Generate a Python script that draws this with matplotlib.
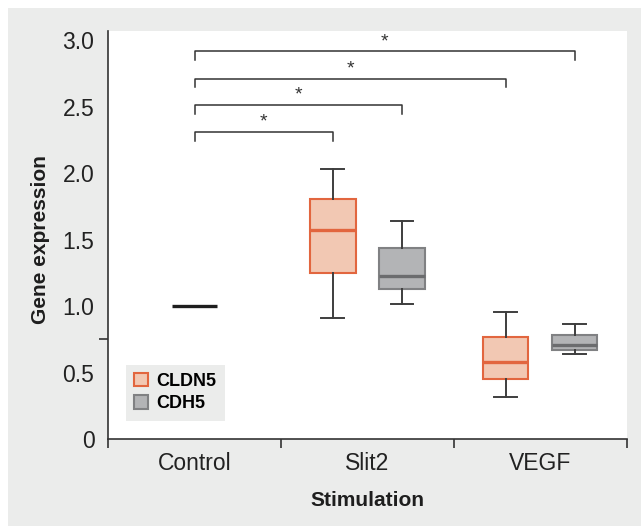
import matplotlib
matplotlib.use("Agg")
import matplotlib.pyplot as plt
from matplotlib.patches import Rectangle, Patch

# ---- data ----
categories = ["Control", "Slit2", "VEGF"]
series = ["CLDN5", "CDH5"]
control_value = 1.0
# stimulated groups (Slit2, VEGF): whisker low, Q1, median, Q3, whisker high
cldn5_whislo = [0.91, 0.32]
cldn5_q1 = [1.25, 0.45]
cldn5_med = [1.575, 0.58]
cldn5_q3 = [1.805, 0.77]
cldn5_whishi = [2.03, 0.96]
cdh5_whislo = [1.02, 0.64]
cdh5_q1 = [1.13, 0.67]
cdh5_med = [1.23, 0.71]
cdh5_q3 = [1.435, 0.785]
cdh5_whishi = [1.64, 0.865]
# significance comparisons: (target category index, series index)
comparisons = [(1, 0), (1, 1), (2, 0), (2, 1)]
bracket_levels = [2.31, 2.51, 2.71, 2.915]
y_ticks = [0, 0.5, 1.0, 1.5, 2.0, 2.5, 3.0]
y_ticklabels = ["0", "0.5", "1.0", "1.5", "2.0", "2.5", "3.0"]
y_tickmarks = [0, 0.75, 1.5, 3.0]

FONT = "Liberation Sans"
plt.rcParams["font.family"] = [FONT, "DejaVu Sans"]

BG = "#ebeceb"
C_FILL, C_EDGE = "#f2c8b3", "#e2663f"
G_FILL, G_EDGE, G_MED = "#b3b4b6", "#808183", "#6b6c6e"
WHISK = "#3e3e3e"
AX_C = "#333333"

W, H = 641, 526
fig = plt.figure(figsize=(W / 100, H / 100), dpi=100, facecolor="white")
bg = Rectangle((8 / W, 0), 1 - 8 / W, (H - 8) / H,
               transform=fig.transFigure, facecolor=BG,
               edgecolor="none", zorder=-10)
fig.patches.append(bg)

ax = fig.add_axes([108.3 / W, (H - 439.3) / H, (626.5 - 108.3) / W, (439.3 - 31) / H])
ax.set_zorder(1)
ax.set_facecolor("white")
ax.set_xlim(0, 3)
ax.set_ylim(0, 3.068)

centers = [0.5, 1.5, 2.5]
offset = 0.2
bw = 0.263

# control line
ax.plot([centers[0] - bw / 2, centers[0] + bw / 2],
        [control_value, control_value], color="#1e1e1e", lw=2.4,
        solid_capstyle="butt", zorder=3)

def stats(lo, q1, med, q3, hi):
    return [dict(whislo=a, q1=b, med=c, q3=d, whishi=e, fliers=[])
            for a, b, c, d, e in zip(lo, q1, med, q3, hi)]

cl_stats = stats(cldn5_whislo, cldn5_q1, cldn5_med, cldn5_q3, cldn5_whishi)
cd_stats = stats(cdh5_whislo, cdh5_q1, cdh5_med, cdh5_q3, cdh5_whishi)
pos_cl = [c - offset for c in centers[1:]]
pos_cd = [c + offset for c in centers[1:]]

common = dict(widths=bw, patch_artist=True, showfliers=False,
              whiskerprops=dict(color=WHISK, lw=1.4),
              capprops=dict(color=WHISK, lw=1.4), manage_ticks=False)
ax.bxp(cl_stats, positions=pos_cl,
       boxprops=dict(facecolor=C_FILL, edgecolor=C_EDGE, lw=1.5),
       medianprops=dict(color=C_EDGE, lw=2.4, solid_capstyle="butt"), **common)
ax.bxp(cd_stats, positions=pos_cd,
       boxprops=dict(facecolor=G_FILL, edgecolor=G_EDGE, lw=1.5),
       medianprops=dict(color=G_MED, lw=2.4, solid_capstyle="butt"), **common)

# brackets
leg = 0.065
for (gi, si), lvl in zip(comparisons, bracket_levels):
    x0 = centers[0]
    x1 = centers[gi] + (-offset if si == 0 else offset)
    ax.plot([x0, x0, x1, x1], [lvl - leg, lvl, lvl, lvl - leg],
            color=AX_C, lw=1.1, clip_on=False)
    ax.text((x0 + x1) / 2, lvl + 0.01, "*", ha="center", va="bottom",
            fontsize=14, color=AX_C)

# spines
for s in ["top", "right"]:
    ax.spines[s].set_visible(False)
for s in ["left", "bottom"]:
    ax.spines[s].set_color(AX_C)
    ax.spines[s].set_linewidth(1.2)

ax.set_yticks(y_ticks)
ax.set_yticklabels(y_ticklabels)
ax.tick_params(axis="y", which="major", length=0, pad=10, labelsize=16.5,
               labelcolor="#222222")
ax.set_yticks(y_tickmarks, minor=True)
ax.tick_params(axis="y", which="minor", length=6.5, width=1.2, color=AX_C)

ax.set_xticks([0, 1, 2, 3])
ax.set_xticklabels([])
ax.tick_params(axis="x", which="major", length=6.5, width=1.2, color=AX_C,
               direction="out")
ax.set_xticks(centers, minor=True)
ax.set_xticklabels(categories, minor=True)
ax.tick_params(axis="x", which="minor", length=0, pad=9, labelsize=16.5,
               labelcolor="#222222")

fig.text(40.5 / W, (H - 240) / H, "Gene expression", rotation=90,
         ha="center", va="center", fontsize=15, fontweight="bold",
         color="#1e1e1e")
fig.text(367.3 / W, (H - 500) / H, "Stimulation", ha="center", va="center",
         fontsize=15, fontweight="bold", color="#1e1e1e")

handles = [Patch(facecolor=C_FILL, edgecolor=C_EDGE, lw=1.5, label=series[0]),
           Patch(facecolor=G_FILL, edgecolor=G_EDGE, lw=1.5, label=series[1])]
lg = ax.legend(handles=handles, loc="lower left",
               bbox_to_anchor=(0.034, 0.046), borderaxespad=0,
               frameon=True, fancybox=False, handlelength=0.75,
               handleheight=0.75, handletextpad=0.5, labelspacing=0.3,
               borderpad=0.45, prop=dict(family=FONT, weight="bold", size=13))
lg.get_frame().set_facecolor(BG)
lg.get_frame().set_edgecolor("none")
lg.get_frame().set_alpha(1)

fig.savefig("out.png", dpi=100, facecolor=fig.get_facecolor())
